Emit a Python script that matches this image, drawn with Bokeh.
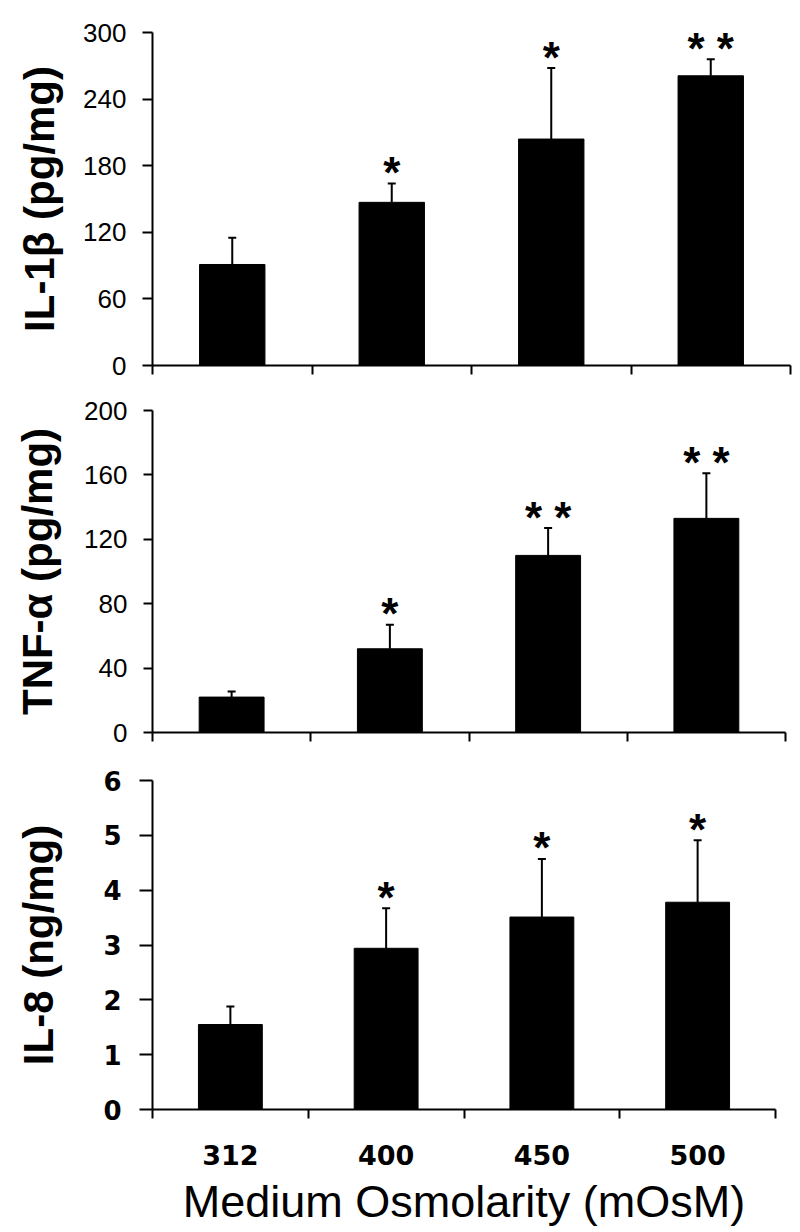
from bokeh.plotting import figure
from bokeh.models import Range1d, FixedTicker, Whisker, TeeHead, ColumnDataSource
from bokeh.layouts import column
from bokeh.core.properties import value
from bokeh.embed import file_html
from bokeh.resources import INLINE

# ---------------- data ----------------
categories = ["312", "400", "450", "500"]

il1b_mean = [91, 147, 204, 261]
il1b_err = [24, 17, 64, 15]
il1b_sig = ["", "*", "*", "* *"]

tnf_mean = [22, 52, 110, 133]
tnf_err = [3.5, 15, 17, 28]
tnf_sig = ["", "*", "* *", "* *"]

il8_mean = [1.55, 2.94, 3.51, 3.78]
il8_err = [0.33, 0.73, 1.06, 1.13]
il8_sig = ["", "*", "*", "*"]

xs = [i + 0.5 for i in range(len(categories))]


def panel(mean, err, sig, ymax, ystep, ylabel, left, fw, right, top, fh, bottom,
          tick_font, tick_style, tick_size, ytick_len, lab_standoff, title_standoff,
          show_x):
    p = figure(frame_width=fw, frame_height=fh,
               x_range=Range1d(0, 4), y_range=Range1d(0, ymax),
               output_backend="svg", toolbar_location=None,
               min_border_left=left, min_border_right=right,
               min_border_top=top, min_border_bottom=bottom)
    p.outline_line_color = None
    p.xgrid.visible = False
    p.ygrid.visible = False
    p.background_fill_color = "white"
    p.border_fill_color = "white"

    upper = [m + e for m, e in zip(mean, err)]
    src = ColumnDataSource(dict(x=xs, mean=mean, upper=upper))
    p.vbar(x="x", top="mean", width=0.41, source=src,
           fill_color="black", line_color="black")
    w = Whisker(source=src, base="x", upper="upper", lower="mean",
                dimension="height", line_width=2, line_color="black",
                upper_head=TeeHead(size=8, line_width=2, line_color="black"),
                lower_head=None)
    p.add_layout(w)

    keep = [i for i, s in enumerate(sig) if s]
    star_src = ColumnDataSource(dict(x=[xs[i] for i in keep],
                                     y=[upper[i] for i in keep],
                                     sig=[sig[i] for i in keep]))
    p.text(x="x", y="y", text="sig", source=star_src,
           text_font=value("Liberation Sans"), text_font_style="bold",
           text_font_size="44px", text_align="center",
           text_baseline="alphabetic", y_offset=-11, text_color="black")

    # y axis
    ya = p.yaxis[0]
    ya.ticker = FixedTicker(ticks=list(range(0, ymax + 1, ystep)), minor_ticks=[])
    ya.axis_line_width = 2
    ya.major_tick_line_width = 2
    ya.major_tick_out = ytick_len
    ya.major_tick_in = 0
    ya.minor_tick_out = 0
    ya.minor_tick_in = 0
    ya.major_label_text_font = tick_font
    ya.major_label_text_font_style = tick_style
    ya.major_label_text_font_size = tick_size
    ya.major_label_text_color = "black"
    ya.major_label_standoff = lab_standoff
    ya.axis_label = ylabel
    ya.axis_label_text_font = "Liberation Sans"
    ya.axis_label_text_font_style = "bold"
    ya.axis_label_text_font_size = "42px"
    ya.axis_label_text_color = "black"
    ya.axis_label_standoff = title_standoff

    # x axis: ticks at category boundaries (minor), labels at centres
    xa = p.xaxis[0]
    xa.axis_line_width = 2
    xa.major_tick_out = 0
    xa.major_tick_in = 0
    xa.minor_tick_out = 9
    xa.minor_tick_in = 0
    xa.minor_tick_line_width = 2
    if show_x:
        xa.ticker = FixedTicker(ticks=xs, minor_ticks=[0, 1, 2, 3, 4])
        xa.major_label_overrides = {x: c for x, c in zip(xs, categories)}
        xa.major_label_text_font = "DejaVu Sans"
        xa.major_label_text_font_style = "bold"
        xa.major_label_text_font_size = "27px"
        xa.major_label_text_color = "black"
        xa.major_label_standoff = 26
        xa.axis_label = "Medium Osmolarity (mOsM)"
        xa.axis_label_text_font = "Liberation Sans"
        xa.axis_label_text_font_style = "normal"
        xa.axis_label_text_font_size = "45px"
        xa.axis_label_text_color = "black"
        xa.axis_label_standoff = 8
    else:
        xa.ticker = FixedTicker(ticks=[], minor_ticks=[0, 1, 2, 3, 4])
        xa.major_label_standoff = 0
    return p


p1 = panel(il1b_mean, il1b_err, il1b_sig, 300, 60, "IL-1β (pg/mg)",
           148, 638, 6, 32, 333, 20,
           "Liberation Sans", "normal", "26px", 10, 16, 17, False)
p2 = panel(tnf_mean, tnf_err, tnf_sig, 200, 40, "TNF-α (pg/mg)",
           150, 633, 9, 25, 322, 18,
           "Liberation Sans", "normal", "26px", 9, 16, 20, False)
p3 = panel(il8_mean, il8_err, il8_sig, 6, 1, "IL-8 (ng/mg)",
           152, 623, 17, 30, 329, 118,
           "DejaVu Sans", "bold", "26px", 13, 18, 38, True)

layout = column(p1, p2, p3, spacing=0)

with open("out.html", "w") as f:
    f.write(file_html(layout, INLINE))
